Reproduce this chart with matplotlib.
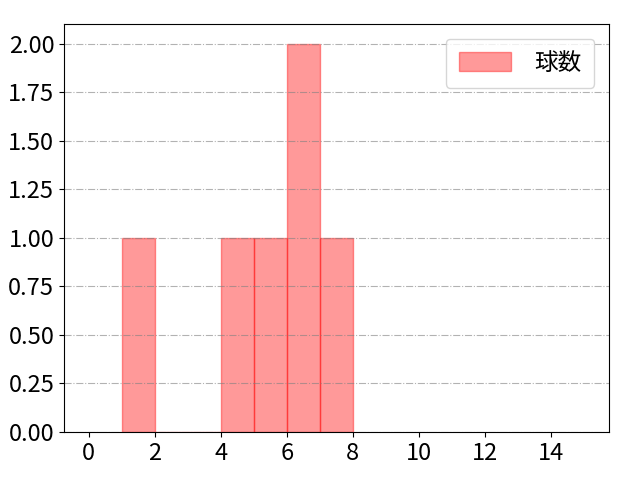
import numpy as np
import matplotlib
matplotlib.use('Agg')
import matplotlib.pyplot as plt

plt.rcParams['font.family'] = ['Noto Sans CJK JP', 'DejaVu Sans']

# bin edges and counts
bin_edges = [1, 2, 3, 4, 5, 6, 7, 8]
counts = [1, 0, 0, 1, 1, 2, 1]
label = '球数'

fig, ax = plt.subplots(figsize=(6.4, 4.8), dpi=100)
fig.subplots_adjust(left=0.1, right=0.951, top=0.949, bottom=0.1)
ax.hist(bin_edges[:-1], bins=bin_edges, weights=counts,
        color='red', alpha=0.4, edgecolor='red', label=label)
ax.set_xlim(-0.75, 15.75)
ax.set_ylim(0, 2.1)
ax.set_xticks(np.arange(0, 15, 2))
ax.set_yticks(np.arange(0, 2.01, 0.25))
ax.yaxis.set_major_formatter(matplotlib.ticker.FormatStrFormatter('%.2f'))
ax.tick_params(labelsize=17)
ax.grid(axis='y', linestyle='-.', color='gray', alpha=0.6)
ax.legend(fontsize=17, loc='upper right', handlelength=2.2, handleheight=0.85,
          handletextpad=1.0, borderpad=0.55, borderaxespad=0.6)
fig.savefig('out.png')
